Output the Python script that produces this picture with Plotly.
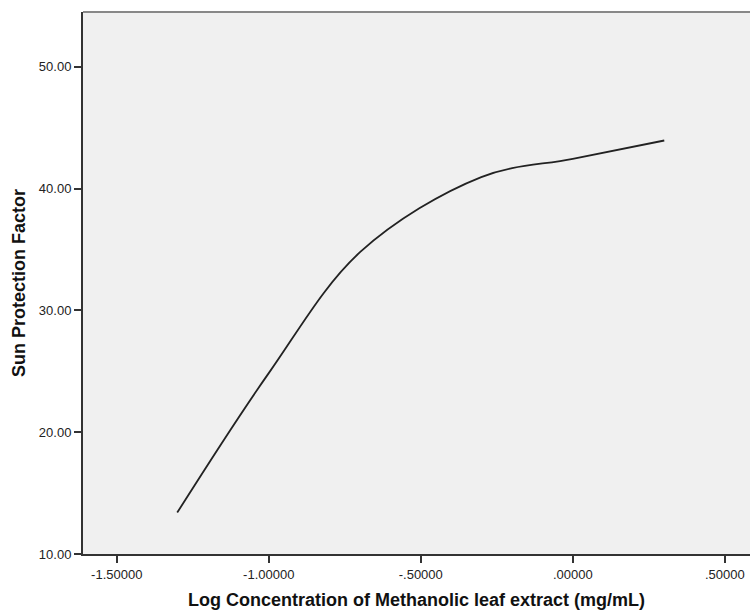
import plotly.graph_objects as go

log_conc = [-1.30103, -1.0, -0.69897, -0.30103, 0.0, 0.30103]
spf = [13.4, 24.85, 34.8, 40.95, 42.45, 43.95]

x_ticks = [-1.5, -1.0, -0.5, 0.0, 0.5]
x_tick_labels = ["-1.50000", "-1.00000", "-.50000", ".00000", ".50000"]
y_ticks = [10, 20, 30, 40, 50]
y_tick_labels = ["10.00", "20.00", "30.00", "40.00", "50.00"]

fig = go.Figure()
fig.add_trace(go.Scatter(
    x=log_conc, y=spf, mode="lines",
    line=dict(color="#222222", width=1.8, shape="spline", smoothing=1.0),
    showlegend=False, hoverinfo="skip",
))

W, H = 750, 614
L, T, B = 83, 12, 60
plot_h = H - T - B

font = "Liberation Sans, Arial, sans-serif"
fig.update_layout(
    width=W, height=H,
    margin=dict(l=L, r=0, t=T, b=B),
    paper_bgcolor="white",
    plot_bgcolor="#f0f0f0",
    font=dict(family=font, color="#222222", size=13),
    xaxis=dict(
        range=[-1.611, 0.583], tickvals=x_ticks, ticktext=x_tick_labels,
        showgrid=False, zeroline=False, showline=True, linecolor="#333333", linewidth=2,
        ticks="outside", ticklen=7, tickwidth=1.5, tickcolor="#333333",
        tickfont=dict(size=13, color="#222222"),
    ),
    yaxis=dict(
        range=[10, 54.5], tickvals=y_ticks, ticktext=y_tick_labels,
        showgrid=False, zeroline=False, showline=True, linecolor="#333333", linewidth=2,
        ticks="outside", ticklen=7, tickwidth=1.5, tickcolor="#333333",
        tickfont=dict(size=13, color="#222222"),
    ),
    shapes=[dict(type="line", xref="paper", yref="paper", x0=0, x1=1, y0=1, y1=1,
                 line=dict(color="#888888", width=2))],
    annotations=[
        dict(text="<b>Log Concentration of Methanolic leaf extract (mg/mL)</b>",
             xref="paper", yref="paper", x=0.5, y=-46 / plot_h,
             xanchor="center", yanchor="middle", showarrow=False,
             font=dict(size=18, color="#111111", family=font)),
        dict(text="<b>Sun Protection Factor</b>",
             xref="paper", yref="paper", x=-64 / (W - L), y=0.5, textangle=-90,
             xanchor="center", yanchor="middle", showarrow=False,
             font=dict(size=18, color="#111111", family=font)),
    ],
)

fig.write_html("out.html", config={"displayModeBar": False},
               post_script="document.body.style.margin='0';")
